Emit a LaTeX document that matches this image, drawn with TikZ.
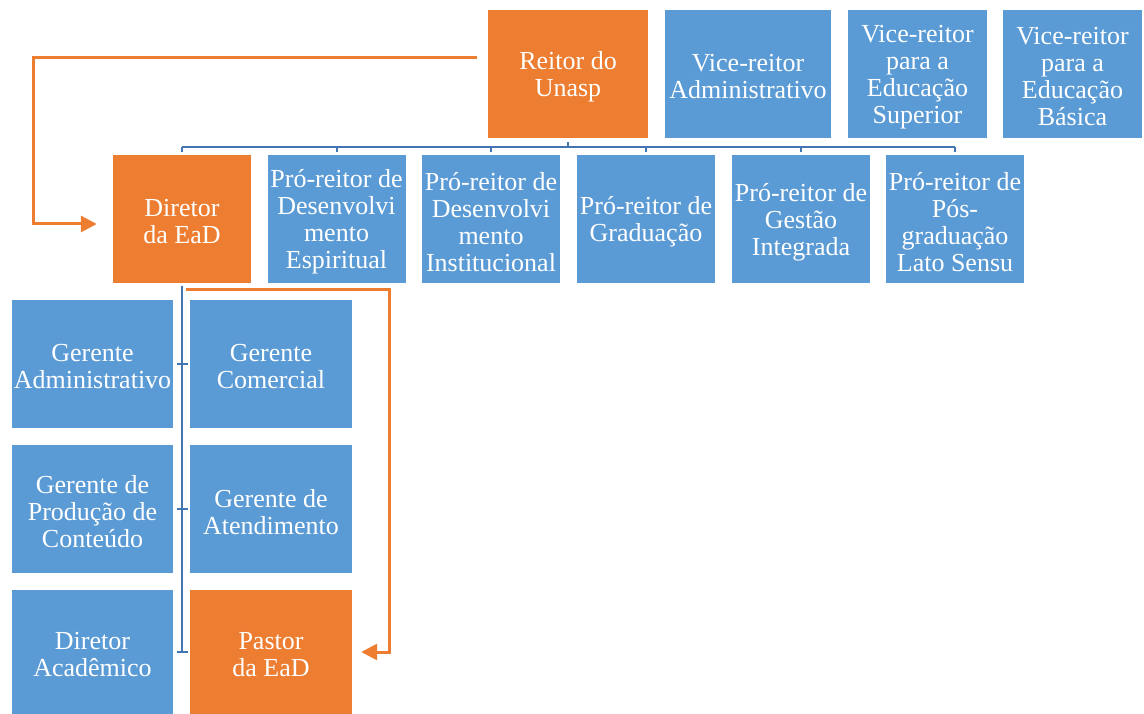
\documentclass[tikz,border=0pt]{standalone}
\usepackage{fontspec}
\setmainfont{Liberation Serif}
\usetikzlibrary{arrows.meta,calc}
\definecolor{boxorange}{HTML}{ED7D31}
\definecolor{boxblue}{HTML}{5B9BD5}
\definecolor{lineblue}{HTML}{4176B2}
\newcommand\orgbox[5]{%
  \node[#1,minimum width=#2] (#3) at (#4) {};
  \node[txt] (#3t) at ([yshift=-3pt]#3.center) {#5};}
\begin{document}
\begin{tikzpicture}[x=1pt,y=-1pt,
  box/.style={fill=boxblue,inner sep=0pt,minimum height=128pt},
  obox/.style={box,fill=boxorange},
  txt/.style={text=white,inner sep=0pt,align=center,font=\fontsize{26}{27}\selectfont},
  bl/.style={draw=lineblue,line width=2pt},
  ol/.style={draw=boxorange,line width=3pt,-{Triangle[length=16pt,width=16pt]}}]
\useasboundingbox (0,0) rectangle (1144,714);
% top row
\orgbox{obox}{160pt}{reitor}{568,74}{Reitor do\\Unasp}
\orgbox{box}{166pt}{vadm}{748,74}{Vice-reitor\\Administrativo}
\orgbox{box}{139pt}{vsup}{917.5,74}{Vice-reitor\\para a\\Educação\\Superior}
\orgbox{box}{139pt}{vbas}{1072.5,74}{Vice-reitor\\para a\\Educação\\Básica}
% second row
\orgbox{obox}{138pt}{dir}{182,219}{Diretor\\da EaD}
\orgbox{box}{138pt}{pesp}{336.5,219}{Pró-reitor de\\Desenvolvi\\mento\\Espiritual}
\orgbox{box}{138pt}{pinst}{491,219}{Pró-reitor de\\Desenvolvi\\mento\\Institucional}
\orgbox{box}{138pt}{pgrad}{646,219}{Pró-reitor de\\Graduação}
\orgbox{box}{138pt}{pgest}{801,219}{Pró-reitor de\\Gestão\\Integrada}
\orgbox{box}{138pt}{ppos}{955,219}{Pró-reitor de\\Pós-\\graduação\\Lato Sensu}
% bottom columns
\orgbox{box}{161pt}{gadm}{92.5,364}{Gerente\\Administrativo}
\orgbox{box}{162pt}{gcom}{271,364}{Gerente\\Comercial}
\orgbox{box}{161pt}{gprod}{92.5,509}{Gerente de\\Produção de\\Conteúdo}
\orgbox{box}{162pt}{gate}{271,509}{Gerente de\\Atendimento}
\orgbox{box,minimum height=124pt}{161pt}{dacad}{92.5,652}{Diretor\\Acadêmico}
\orgbox{obox,minimum height=124pt}{162pt}{pastor}{271,652}{Pastor\\da EaD}
% blue bus under Reitor
\coordinate (bus) at (0,147);
\draw[bl] (dir.north |- bus) -- (ppos.north |- bus);
\draw[bl,shorten <=4pt] (reitor.south) -- (reitor.south |- bus);
\foreach \n in {dir,pesp,pinst,pgrad,pgest,ppos}
  \draw[bl,shorten >=3pt] (\n.north |- bus) -- (\n.north);
% blue vertical from Diretor
\coordinate (vx) at (182,0);
\draw[bl,shorten <=3pt] (dir.south) -- (vx |- pastor.west);
\foreach \n in {gcom,gate,pastor}
  \draw[bl] ([xshift=-5pt]vx |- \n.west) -- ([xshift=6pt]vx |- \n.west);
% orange arrows
\coordinate (o1) at (477,58);
\draw[ol,shorten >=16pt] (o1) -- (33,58) |- ([yshift=-5pt]dir.west);
\coordinate (o2) at (186,290);
\draw[ol,shorten >=9pt] (o2) -- (389,290) |- (pastor.east);
\end{tikzpicture}
\end{document}
